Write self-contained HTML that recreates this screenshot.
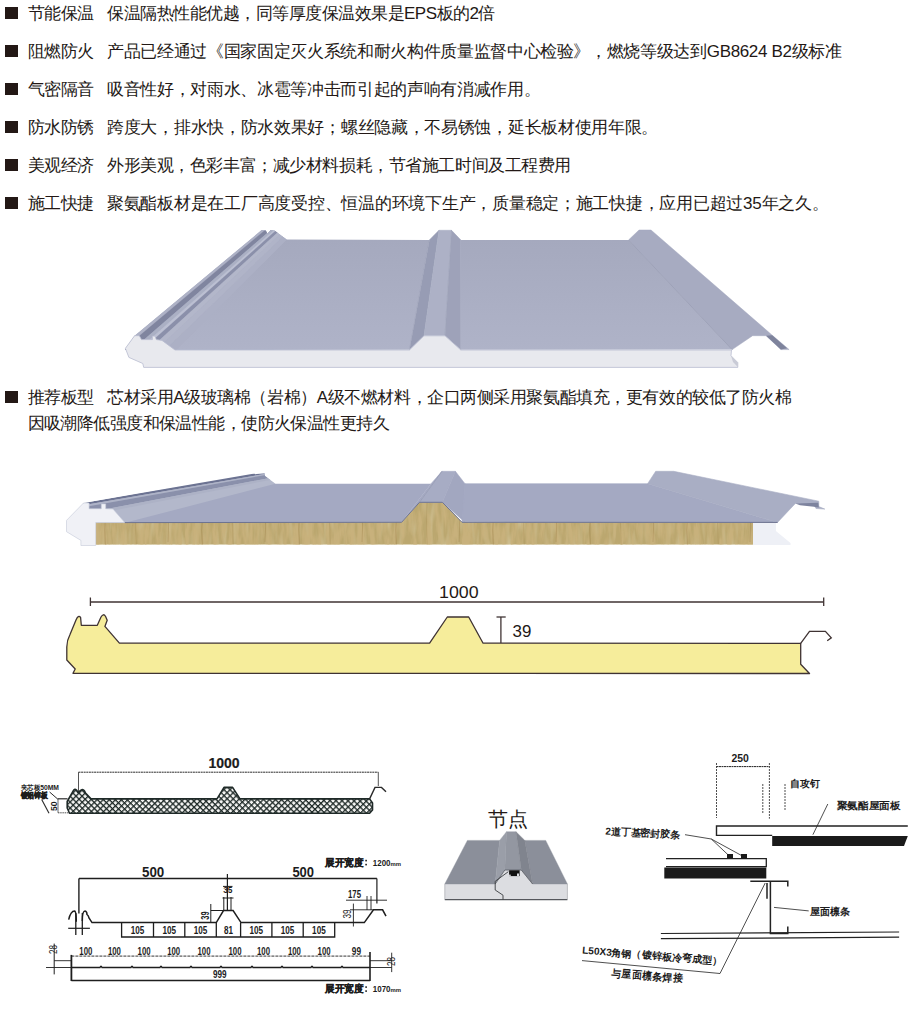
<!DOCTYPE html>
<html><head><meta charset="utf-8">
<style>
*{margin:0;padding:0;box-sizing:border-box}
html,body{width:920px;height:1017px;background:#fff;overflow:hidden}
body{position:relative;font-family:"Liberation Sans",sans-serif;color:#231815}
.ln{position:absolute;left:0;font-size:17px;line-height:20px;white-space:nowrap;letter-spacing:-0.5px}
.b{position:absolute;left:4.9px;width:12.8px;height:11.7px;background:#231815}
.h{position:absolute;left:27.5px;top:1px}
.t{position:absolute;left:107px;top:1px}
svg{position:absolute;left:0;top:0}
</style></head><body>
<div class="ln" style="top:3px"><span class="b" style="top:4.2px"></span><span class="h">节能保温</span><span class="t" style="letter-spacing:-0.5px">保温隔热性能优越，同等厚度保温效果是EPS板的2倍</span></div>
<div class="ln" style="top:41px"><span class="b" style="top:4.2px"></span><span class="h">阻燃防火</span><span class="t" style="letter-spacing:-0.34px">产品已经通过《国家固定灭火系统和耐火构件质量监督中心检验》，燃烧等级达到GB8624 B2级标准</span></div>
<div class="ln" style="top:79px"><span class="b" style="top:4.2px"></span><span class="h">气密隔音</span><span class="t" style="letter-spacing:-0.33px">吸音性好，对雨水、冰雹等冲击而引起的声响有消减作用。</span></div>
<div class="ln" style="top:117px"><span class="b" style="top:4.2px"></span><span class="h">防水防锈</span><span class="t" style="letter-spacing:-0.3px">跨度大，排水快，防水效果好；螺丝隐藏，不易锈蚀，延长板材使用年限。</span></div>
<div class="ln" style="top:155px"><span class="b" style="top:4.2px"></span><span class="h">美观经济</span><span class="t" style="letter-spacing:-0.43px">外形美观，色彩丰富；减少材料损耗，节省施工时间及工程费用</span></div>
<div class="ln" style="top:193px"><span class="b" style="top:4.2px"></span><span class="h">施工快捷</span><span class="t" style="letter-spacing:-0.26px">聚氨酯板材是在工厂高度受控、恒温的环境下生产，质量稳定；施工快捷，应用已超过35年之久。</span></div>
<div class="ln" style="top:387px"><span class="b" style="top:4.2px"></span><span class="h">推荐板型</span><span class="t" style="letter-spacing:-0.43px">芯材采用A级玻璃棉（岩棉）A级不燃材料，企口两侧采用聚氨酯填充，更有效的较低了防火棉</span></div>
<div class="ln" style="top:413px"><span class="h" style="letter-spacing:-0.57px">因吸潮降低强度和保温性能，使防火保温性更持久</span></div>

<svg width="920" height="1017" viewBox="0 0 920 1017" style="position:absolute;left:0;top:0">
<defs>
<linearGradient id="pl" x1="0" y1="0" x2="0" y2="1"><stop offset="0" stop-color="#a5a9be"/><stop offset="1" stop-color="#afb3c8"/></linearGradient>
</defs>
<!-- IMAGE 1 -->
<g>
<!-- main plane left -->
<polygon fill="url(#pl)" points="285.7,239.6 429.4,240 409.5,349.8 175,350"/>
<!-- left edge strip -->
<clipPath id="strip1"><polygon points="134.6,335.7 261.5,230.1 265.8,230.5 267.4,233.4 270.7,230.1 274.6,230.5 278.5,233.4 286.7,239.6 176,350 125,350"/></clipPath>
<g clip-path="url(#strip1)">
<rect x="120" y="225" width="170" height="130" fill="#acb0c5"/>
<polygon fill="#aeb2c6" stroke="#aeb2c6" stroke-width="0.3" points="115.0,352.0 120.3,352.0 270.0,226.0 267.0,226.0"/>
<polygon fill="#80859f" stroke="#80859f" stroke-width="0.3" points="120.3,352.0 129.8,352.0 275.4,226.0 270.0,226.0"/>
<polygon fill="#abb0c4" stroke="#abb0c4" stroke-width="0.3" points="129.8,352.0 135.6,352.0 278.6,226.0 275.4,226.0"/>
<polygon fill="#bcc0d2" stroke="#bcc0d2" stroke-width="0.3" points="135.6,352.0 140.0,352.0 281.1,226.0 278.6,226.0"/>
<polygon fill="#8b90aa" stroke="#8b90aa" stroke-width="0.3" points="140.0,352.0 146.5,352.0 284.8,226.0 281.1,226.0"/>
<polygon fill="#b3b7ca" stroke="#b3b7ca" stroke-width="0.3" points="146.5,352.0 153.9,352.0 288.9,226.0 284.8,226.0"/>
<polygon fill="#b0b4c8" stroke="#b0b4c8" stroke-width="0.3" points="153.9,352.0 163.1,352.0 294.1,226.0 288.9,226.0"/>
<polygon fill="#acb0c5" stroke="#acb0c5" stroke-width="0.3" points="163.1,352.0 176.4,352.0 301.6,226.0 294.1,226.0"/>
</g>
<!-- middle ridge -->
<polygon fill="#979cb4" stroke="#979cb4" stroke-width="0.6" points="429.4,240 439,230.3 424,335.8 409.5,349.8"/>
<polygon fill="#adb1c6" stroke="#adb1c6" stroke-width="0.6" points="439,230.3 451.5,230.3 445,335.8 424,335.8"/>
<polygon fill="#9ea2b9" stroke="#9ea2b9" stroke-width="0.6" points="451.5,230.3 460.8,240 460.8,349.8 445,335.8"/>
<!-- plane right -->
<polygon fill="url(#pl)" points="460.8,240 628.5,240 732.2,349.6 460.8,349.8"/>
<!-- right fold face -->
<polygon fill="#a7abc1" stroke="#a7abc1" stroke-width="0.5" points="628.5,240 639,230 651,230 772.2,335.2 789.1,349.6 780.9,349.6 766.1,335.7 752.6,335.7 732.2,349.6"/>
<polygon fill="#7e839c" points="766.1,335.7 772.2,335.2 787,348.2 780.9,349.6"/>
<line x1="628.5" y1="240" x2="732.2" y2="349.6" stroke="#9599b0" stroke-width="0.7"/>
<!-- foam front -->
<polygon fill="#e8e9ee" stroke="#b9bdd0" stroke-width="0.8" points="134.6,335.7 139.3,335.7 141.5,339.6 152.4,339.6 152.4,336.1 155,336.1 156.3,339.6 162,340.4 175,350 409.5,350 424,335.8 445,335.8 460.8,350 731.5,350 731,355.7 737.8,362.6 737.8,367.4 143.7,367.4 142.8,363.5 128.9,357.4 125.4,348.3"/>
<polygon fill="#c9cbd6" points="731,355.7 737.8,362.6 737.8,367 733,362"/>
</g>
<!-- IMAGE 2 -->
<g>
<!-- rockwool -->
<filter id="rwf" x="0" y="0" width="1" height="1"><feTurbulence type="fractalNoise" baseFrequency="0.22 0.04" numOctaves="3" seed="7"/><feColorMatrix type="matrix" values="0 0 0 0 0.58  0 0 0 0 0.44  0 0 0 0 0.2  3.0 0 0 0 -1.1"/><feComposite in2="SourceGraphic" operator="in"/></filter>
<filter id="rwl" x="0" y="0" width="1" height="1"><feTurbulence type="fractalNoise" baseFrequency="0.18 0.03" numOctaves="2" seed="21"/><feColorMatrix type="matrix" values="0 0 0 0 0.84  0 0 0 0 0.77  0 0 0 0 0.56  1.0 0 0 0 -0.45"/><feComposite in2="SourceGraphic" operator="in"/></filter>
<pattern id="rwp" width="97" height="46" patternUnits="userSpaceOnUse" x="100" y="500"><path d="M5,0 L5.5,14 L4.8,30 L5.4,46" stroke="#8a6a30" stroke-width="0.9" fill="none"/><path d="M36,0 L35.5,22 L36.3,46" stroke="#9c7f45" stroke-width="0.7" fill="none"/><path d="M68,4 L68.6,26 L68,42" stroke="#8f7038" stroke-width="0.8" fill="none"/></pattern>
<clipPath id="rwc"><polygon points="95.7,522.3 401.6,522.3 419.5,502.3 442.4,502.3 462,522.3 753.2,522.3 753.2,544.6 95.7,544.6"/></clipPath>
<g clip-path="url(#rwc)"><rect x="95" y="500" width="660" height="46" fill="#bba76f"/><rect x="95" y="500" width="660" height="46" fill="#fff" filter="url(#rwl)"/><rect x="95" y="500" width="660" height="46" fill="#fff" filter="url(#rwf)"/><rect x="95" y="500" width="660" height="46" fill="url(#rwp)" opacity="0.35"/></g>
<!-- main plane left -->
<polygon fill="#a4a9c2" points="266,483.7 431,483.7 401.6,522 110,522.6"/>
<!-- left strip -->
<clipPath id="strip2"><polygon points="83.5,503 249.6,473.1 254.5,473.5 255.5,474.6 256.5,474 264.6,473.4 265,476 275.5,483.7 126,522.6 83.5,522.6"/></clipPath>
<g clip-path="url(#strip2)">
<polygon fill="#b3b8cb" points="70,506 280,470 280,540 70,540"/>
<polygon fill="#6c7392" points="70,505.2 280,469 280,471.3 70,507.5"/>
<polygon fill="#aeb3c7" points="70,507.5 280,471.3 280,472.5 70,509.5"/>
<polygon fill="#8a90ab" points="70,509.5 280,472.5 280,476 70,516"/>
<polygon fill="#adb2c6" points="70,516 280,476 280,478 70,519"/>
</g>
<!-- end caps -->
<polygon fill="#f0f1f6" stroke="#c5c9d8" stroke-width="0.6" points="66.5,520.4 83.5,503 89.1,503 89.1,508.7 101.3,508.7 101.3,503.9 105.7,503.9 105.7,508.7 113,509.1 124.8,522.6 95.7,522.6 95.7,545.5 80.9,545.5 80.9,540.4 66.5,531.7"/>
<polygon fill="#eef0f6" points="753,522.5 775.9,522.5 775.9,531 790.5,543 790.5,545 753,545"/>
<!-- mid ridge -->
<polygon fill="#a4a9c2" stroke="#a4a9c2" stroke-width="0.5" points="431,483.7 442,471.3 419.5,502.3 401.6,521.8"/>
<polygon fill="#a7acc4" stroke="#a7acc4" stroke-width="0.5" points="442,471.3 455.4,471.3 442.4,502.3 419.5,502.3"/>
<polygon fill="#a2a7c0" stroke="#a2a7c0" stroke-width="0.5" points="455.4,471.3 465,483.7 464.4,521.8 442.4,502.3"/>
<line x1="419.5" y1="502.3" x2="442" y2="471.3" stroke="#959ab3" stroke-width="0.8"/>
<!-- plane right -->
<polygon fill="#a4a9c2" stroke="#a4a9c2" stroke-width="0.6" points="465,483.7 647.6,483.7 777.5,522.4 462,521.8"/>
<!-- right face -->
<polygon fill="#a9aec4" stroke="#a9aec4" stroke-width="0.6" points="647.6,483.7 655.7,471.3 673.7,471.3 818.8,501.2 818.8,506.6 824.8,509.1 816,508.5 814,505 795.4,503.4 777.5,522.4"/>
<polygon fill="#7d839e" points="795.4,503.4 818.3,502.8 818.8,507.5 814,506.8 800,505.2"/>
<polyline fill="none" stroke="#6d7390" stroke-width="1" points="124.8,522.6 401.6,522.3 419.5,502.3 442.4,502.3 462,522.3 777.5,522.4"/>
</g>

<!-- IMAGE 3 yellow profile -->
<g stroke="#3f3333" stroke-width="1.3" fill="none">
<path fill="#f6ed9b" stroke-linejoin="round" d="M73,673.3 L75.2,669 L66.8,660 L66.8,647 Q67,640 69.9,634.8 L76,620 Q78.3,614.5 80.6,617.5 L81.3,625.3 L97.3,625.3 L101,617 Q103.4,612.8 105.6,616.5 L107.2,620.3 L104.9,626.4 L119.4,643.2 L429.6,643.2 L447.3,617 L468.7,617 L483.1,643.2 L800.7,643.4 L800.7,664.3 L809.5,673.5 Z"/>
<polyline points="800.7,643.4 809.5,631.3 825.4,631.3 831.3,637.8 827.2,640.7"/>
<line x1="90.4" y1="602" x2="823.7" y2="602"/>
<line x1="90.4" y1="597.5" x2="90.4" y2="606"/>
<line x1="823.7" y1="597.5" x2="823.7" y2="606"/>
<line x1="500.9" y1="617" x2="500.9" y2="643"/>
<line x1="496.5" y1="617" x2="505.7" y2="617"/>
</g>
<text x="439" y="597.5" font-family="Liberation Sans" font-size="16.8" fill="#231815" textLength="39.6" lengthAdjust="spacingAndGlyphs">1000</text>
<text x="512.5" y="637" font-family="Liberation Sans" font-size="16.8" fill="#231815" textLength="18.8" lengthAdjust="spacingAndGlyphs">39</text>

<!-- IMAGE 4 technical drawings -->
<defs>
<pattern id="hatch" width="4.35" height="4.2" patternUnits="userSpaceOnUse" patternTransform="translate(67,798) rotate(45)">
<rect width="4.35" height="4.2" fill="#f4f4f2"/>
<rect x="0" y="0" width="4.35" height="1.3" fill="#1f2a28"/>
<rect x="0" y="0" width="1.3" height="4.2" fill="#1f2a28"/>
</pattern>
</defs>
<g font-family="Liberation Sans" fill="#1c1c1c">
<text x="208.5" y="767.5" font-size="14" font-weight="bold" stroke="#1c1c1c" stroke-width="0.2">1000</text>
</g>
<g stroke="#2a2a2a" fill="none">
<line x1="78.5" y1="772.2" x2="378.3" y2="772.2" stroke-width="1" stroke-dasharray="2,0.6"/>
<line x1="78.5" y1="772.2" x2="78.5" y2="791.5" stroke-width="0.8"/>
<line x1="378.3" y1="772.2" x2="378.3" y2="786" stroke-width="0.8"/>
<path fill="url(#hatch)" stroke="#1f2a28" stroke-width="1.6" stroke-linejoin="round" d="M69.5,813.2 L67.2,808 L67.2,801.5 L73.5,790.5 Q74.7,788.5 76.5,790 L78,792.5 L81,790.2 Q83.2,788.7 84.8,791.5 L85.5,793 L91,798.9 L217,798.9 L224,787.4 L232.6,787.4 L240,798.9 L369.6,798.9 L372.5,803 L372.5,810 L369.6,813.2 Z"/>
<polyline points="369.6,798.9 375,787.4 381.5,787.4 386,791.7" stroke-width="1.4"/>
<line x1="58" y1="798.8" x2="58" y2="812.8" stroke-width="0.7"/>
<line x1="57.4" y1="798.8" x2="67.5" y2="798.8" stroke-width="1.2"/>
<line x1="58" y1="812.8" x2="70" y2="812.8" stroke-width="0.8" stroke-dasharray="1.5,0.7"/>
<line x1="49.6" y1="792" x2="57.4" y2="798.8" stroke-width="1"/>
<line x1="41.7" y1="799.5" x2="49" y2="813.2" stroke-width="1.1"/>
</g>
<g font-family="Liberation Sans" fill="#1c1c1c">
<text x="20.5" y="789.8" font-size="7.2" font-weight="bold" textLength="38.5" lengthAdjust="spacingAndGlyphs">夹芯板50MM</text>
<text x="20.5" y="797.8" font-size="8" font-weight="bold" stroke="#1c1c1c" stroke-width="0.6" textLength="27" lengthAdjust="spacingAndGlyphs">镀铝锌板</text>
<text transform="translate(56.5,811) rotate(-90)" font-size="9.5" font-weight="bold" textLength="9.5" lengthAdjust="spacingAndGlyphs">50</text>
</g>
<!-- drawing 2 -->
<g font-family="Liberation Sans" fill="#1c1c1c">
<text x="325" y="865.8" font-size="9.5" font-weight="bold" stroke="#1c1c1c" stroke-width="0.35" textLength="38.5" lengthAdjust="spacingAndGlyphs">展开宽度</text>
<rect x="365.3" y="859.8" width="1.6" height="1.6" fill="#1c1c1c"/><rect x="365.3" y="863.8" width="1.6" height="1.6" fill="#1c1c1c"/>
<text x="372.8" y="865.8" font-size="9" font-weight="bold" textLength="17.7" lengthAdjust="spacingAndGlyphs">1200</text>
<text x="390.5" y="865.8" font-size="6" font-weight="bold" textLength="10.5" lengthAdjust="spacingAndGlyphs">mm</text>
<text x="325" y="992.3" font-size="9.5" font-weight="bold" stroke="#1c1c1c" stroke-width="0.35" textLength="38.5" lengthAdjust="spacingAndGlyphs">展开宽度</text>
<rect x="365.3" y="986.3" width="1.6" height="1.6" fill="#1c1c1c"/><rect x="365.3" y="990.3" width="1.6" height="1.6" fill="#1c1c1c"/>
<text x="372.8" y="992.3" font-size="9" font-weight="bold" textLength="17.7" lengthAdjust="spacingAndGlyphs">1070</text>
<text x="390.5" y="992.3" font-size="6" font-weight="bold" textLength="10.5" lengthAdjust="spacingAndGlyphs">mm</text>
<text x="142" y="877.2" font-size="15" font-weight="bold" textLength="22.3" lengthAdjust="spacingAndGlyphs">500</text>
<text x="292.4" y="877.2" font-size="15" font-weight="bold" textLength="21.7" lengthAdjust="spacingAndGlyphs">500</text>
</g>
<g stroke="#1e1e1e" fill="none" stroke-width="1.2">
<line x1="78.9" y1="878.5" x2="376.9" y2="878.5" stroke-width="1.4"/>
<line x1="78.9" y1="878.5" x2="78.9" y2="913.6" stroke-width="1.4"/>
<line x1="376.9" y1="878.5" x2="376.9" y2="903.6"/>
<line x1="227.4" y1="874" x2="227.4" y2="910.5"/>
<line x1="223.8" y1="897" x2="223.8" y2="910.5" stroke-width="1"/>
<line x1="231" y1="897" x2="231" y2="910.5" stroke-width="1"/>
<line x1="222.5" y1="898" x2="233.5" y2="898" stroke-width="1"/>
<line x1="223" y1="886.4" x2="232.5" y2="886.4" stroke-width="1"/>
<path stroke-width="1.5" d="M68.7,919.6 Q70.5,911 74.7,910.9 Q76.3,912 76.3,921.7 M82.3,921 Q82.3,911 85,911 Q87,911.5 87,914.5 Q88.5,915.5 89,918 L92,922.6 L216.3,922.6 L223.5,910.5 L233.1,910.5 L241,922.6 L364.3,922.6 L373.5,909.8 L382.6,909.8 L386,916.2"/>
<line x1="75.8" y1="913" x2="75.8" y2="935" stroke-width="1.3"/>
<line x1="82.3" y1="913" x2="82.3" y2="935" stroke-width="1.3"/>
<line x1="68.2" y1="928.3" x2="89.9" y2="928.3" stroke-width="1.2"/>
<path stroke-width="1.3" d="M121.6,922.6 L121.6,937 L334.7,937 L334.7,922.6 M153.5,922.6 L153.5,937 M184.8,922.6 L184.8,937 M216.3,922.6 L216.3,937 M240.6,922.6 L240.6,937 M271.9,922.6 L271.9,937 M303.2,922.6 L303.2,937"/>
<line x1="210.8" y1="904" x2="210.8" y2="922.6" stroke-width="1"/>
<line x1="210.8" y1="910.5" x2="223" y2="910.5" stroke-width="1"/>
<line x1="346" y1="900.2" x2="387" y2="900.2" stroke-width="0.9"/>
<line x1="367" y1="896" x2="367" y2="910" stroke-width="0.9"/>
<line x1="371" y1="896" x2="371" y2="910" stroke-width="0.9"/>
<line x1="353.4" y1="903.6" x2="353.4" y2="926.5" stroke-width="0.9"/>
<line x1="350" y1="909.8" x2="373" y2="909.8" stroke-width="0.9"/>
<!-- lower -->
<line x1="54.2" y1="943.6" x2="54.2" y2="974.4" stroke-width="1"/>
<line x1="54.2" y1="960.7" x2="71.4" y2="960.7" stroke-width="0.9"/>
<line x1="46" y1="967.5" x2="71.4" y2="967.5" stroke-width="0.9"/>
<line x1="71.4" y1="954.9" x2="71.4" y2="981" stroke-width="1.8"/>
<line x1="71.4" y1="956.1" x2="370" y2="956.1" stroke-width="0.9" stroke-dasharray="3,1"/>
<path stroke-width="1.4" d="M71.4,967.5 L100,967.5 Q101,965 102,967.5 L131,967.5 Q132,965 133,967.5 L160,967.5 Q161,965 162,967.5 L190,967.5 Q191,965 192,967.5 L220,967.5 Q221,965 222,967.5 L251,967.5 Q252,965 253,967.5 L281,967.5 Q282,965 283,967.5 L311,967.5 Q312,965 313,967.5 L341,967.5 Q342,965 343,967.5 L370,967.5"/>
<line x1="71.4" y1="980.6" x2="370" y2="980.6" stroke-width="1.5"/>
<line x1="370" y1="952" x2="370" y2="981" stroke-width="1.6"/>
<line x1="370" y1="960.7" x2="391.7" y2="960.7" stroke-width="0.9"/>
<line x1="370" y1="967.5" x2="391.7" y2="967.5" stroke-width="0.9"/>
<line x1="391.7" y1="952.7" x2="391.7" y2="972.1" stroke-width="0.9"/>
</g>
<g font-family="Liberation Sans" fill="#1c1c1c" font-size="10">
<text x="137.6" y="934.4" text-anchor="middle" font-weight="bold" textLength="13.6" lengthAdjust="spacingAndGlyphs">105</text>
<text x="169.2" y="934.4" text-anchor="middle" font-weight="bold" textLength="13.6" lengthAdjust="spacingAndGlyphs">105</text>
<text x="200.6" y="934.4" text-anchor="middle" font-weight="bold" textLength="13.6" lengthAdjust="spacingAndGlyphs">105</text>
<text x="228.4" y="934.4" text-anchor="middle" font-weight="bold" textLength="9.0" lengthAdjust="spacingAndGlyphs">81</text>
<text x="256.2" y="934.4" text-anchor="middle" font-weight="bold" textLength="13.6" lengthAdjust="spacingAndGlyphs">105</text>
<text x="287.5" y="934.4" text-anchor="middle" font-weight="bold" textLength="13.6" lengthAdjust="spacingAndGlyphs">105</text>
<text x="318.9" y="934.4" text-anchor="middle" font-weight="bold" textLength="13.6" lengthAdjust="spacingAndGlyphs">105</text>
<text x="348" y="898" font-weight="bold" textLength="13" lengthAdjust="spacingAndGlyphs">175</text>
<text transform="translate(208.9,919.7) rotate(-90)" font-weight="bold" font-size="10.5" textLength="8.3" lengthAdjust="spacingAndGlyphs">39</text>
<text transform="translate(351,918.5) rotate(-90)" textLength="9" lengthAdjust="spacingAndGlyphs">39</text>
<text x="223.2" y="892.8" font-weight="bold" font-size="8.5" textLength="9.3" lengthAdjust="spacingAndGlyphs">35</text>
<text transform="translate(57,954) rotate(-90)" textLength="9" lengthAdjust="spacingAndGlyphs">28</text>
<text transform="translate(394.5,966) rotate(-90)" textLength="9" lengthAdjust="spacingAndGlyphs">28</text>
<text x="79.3" y="955" font-weight="bold" textLength="13" lengthAdjust="spacingAndGlyphs">100</text>
<text x="107.9" y="955" font-weight="bold" textLength="13" lengthAdjust="spacingAndGlyphs">100</text>
<text x="137.6" y="955" font-weight="bold" textLength="13" lengthAdjust="spacingAndGlyphs">100</text>
<text x="167.2" y="955" font-weight="bold" textLength="13" lengthAdjust="spacingAndGlyphs">100</text>
<text x="197.5" y="955" font-weight="bold" textLength="13" lengthAdjust="spacingAndGlyphs">100</text>
<text x="228.5" y="955" font-weight="bold" textLength="13" lengthAdjust="spacingAndGlyphs">100</text>
<text x="257" y="955" font-weight="bold" textLength="13" lengthAdjust="spacingAndGlyphs">100</text>
<text x="287.9" y="955" font-weight="bold" textLength="13" lengthAdjust="spacingAndGlyphs">100</text>
<text x="317.6" y="955" font-weight="bold" textLength="13" lengthAdjust="spacingAndGlyphs">100</text>
<text x="351.8" y="955" font-weight="bold" textLength="9.2" lengthAdjust="spacingAndGlyphs">99</text>
<text x="213" y="978.2" font-weight="bold" textLength="13.6" lengthAdjust="spacingAndGlyphs">999</text>
</g>

<!-- IMAGE 5 node -->
<text x="487.5" y="826" font-family="Liberation Sans" font-size="19.5" fill="#231815">节点</text>
<g>
<polygon fill="#dcdde1" points="444.8,884 495.2,884 504.8,870 521.3,870 532.6,884 567.4,884 567.4,899.6 444.8,899.6"/>
<polygon fill="#8b8f9a" stroke="#8b8f9a" stroke-width="0.4" points="467.4,840.4 499.6,840.4 495.2,884 444.8,884"/>
<polygon fill="#8b8f9a" stroke="#8b8f9a" stroke-width="0.4" points="524.8,840.4 545.7,840.4 567.4,884 532.6,884"/>
<polygon fill="#9a9ea8" stroke="#9a9ea8" stroke-width="0.4" points="499.6,840.4 506.5,831.7 504.8,870 495.2,884"/>
<polygon fill="#9397a1" stroke="#9397a1" stroke-width="0.4" points="506.5,831.7 516,831.7 521.3,870 504.8,870"/>
<polygon fill="#80848e" stroke="#80848e" stroke-width="0.4" points="516,831.7 524.8,840.4 532.6,884 521.3,870"/>
<polyline fill="none" stroke="#55575e" stroke-width="0.7" points="495.2,884 504.8,870 521.3,870 532.6,884"/>
<line x1="444.8" y1="899.6" x2="567.4" y2="899.6" stroke="#55575c" stroke-width="1.1"/>
<line x1="444.8" y1="884" x2="444.8" y2="899.6" stroke="#9a9ca2" stroke-width="0.6"/>
<line x1="567.4" y1="884" x2="567.4" y2="899.6" stroke="#9a9ca2" stroke-width="0.6"/>
<polyline fill="none" stroke="#3a3c40" stroke-width="0.9" points="508.3,871.7 495.2,881.3 495.2,890 503,895.2 503,899.6"/>
<rect x="509.1" y="870.3" width="10.5" height="5.8" fill="#111"/>
<rect x="517" y="873.5" width="2" height="2.6" fill="#dcdde1"/>
<rect x="509.1" y="874.6" width="1.6" height="1.5" fill="#dcdde1"/>
</g>
<!-- IMAGE 6 right drawing -->
<g font-family="Liberation Sans" fill="#1c1c1c">
<text x="731.5" y="761.7" font-size="11" font-weight="bold" textLength="17.4" lengthAdjust="spacingAndGlyphs">250</text>
<text x="789.6" y="787.4" font-size="10" font-weight="bold" textLength="30" lengthAdjust="spacingAndGlyphs">自攻钉</text>
<text x="836.5" y="809.3" font-size="10" font-weight="bold" textLength="64" lengthAdjust="spacingAndGlyphs">聚氨酯屋面板</text>
<text transform="translate(605.2,834.5) rotate(3)" font-size="10" font-weight="bold" textLength="75" lengthAdjust="spacingAndGlyphs">2道丁基密封胶条</text>
<text x="810.4" y="915.4" font-size="10" font-weight="bold" textLength="40" lengthAdjust="spacingAndGlyphs">屋面檩条</text>
<text transform="translate(582,953.5) rotate(4.5)" font-size="10" font-weight="bold" textLength="140" lengthAdjust="spacingAndGlyphs">L50X3角钢（镀锌板冷弯成型）</text>
<text transform="translate(611,976.5) rotate(4.5)" font-size="10.5" font-weight="bold" textLength="72" lengthAdjust="spacingAndGlyphs">与屋面檩条焊接</text>
</g>
<g stroke="#222" fill="none" stroke-width="0.8">
<line x1="716.5" y1="766.6" x2="769.4" y2="766.6" stroke-width="1" stroke-dasharray="2,0.5"/>
<line x1="716.5" y1="763" x2="716.5" y2="818" stroke-dasharray="2,1"/>
<line x1="769.4" y1="763" x2="769.4" y2="818.7" stroke-dasharray="2,1"/>
<line x1="762.8" y1="784" x2="762.8" y2="813" stroke-dasharray="2,1"/>
<line x1="785" y1="784" x2="785" y2="810" stroke-dasharray="2,1"/>
<path stroke-width="1.4" d="M907.8,826 L716.5,826 L716.5,835.4 L772.2,835.4"/>
<line x1="827.8" y1="804" x2="812.9" y2="834.7"/>
<line x1="685" y1="834.7" x2="711.3" y2="839"/>
<line x1="711.3" y1="839" x2="730.4" y2="857"/>
<line x1="711.3" y1="839" x2="744.3" y2="857"/>
<path stroke-width="1.3" d="M666,858.7 L766.3,858.7 L766.3,866.7 L666,866.7"/>
<line x1="660.9" y1="933.5" x2="899.1" y2="932" stroke-width="1.2"/>
<line x1="660.9" y1="938.7" x2="899.1" y2="937.2" stroke-width="1.2"/>
<path stroke-width="1.5" d="M750.3,881.3 L787.8,881.3 L787.8,886.5 M770.4,881.3 L770.4,933.5 L787.8,933.5 L787.8,926.5 M767,883 L767,898.7"/>
<line x1="774" y1="907.4" x2="808.7" y2="910.9"/>
<polyline points="582,960.6 720,973.5 765.2,883"/>
</g>
<polygon fill="#1a1a1a" points="772.2,836 907.8,836 904,846 772.2,846"/>
<polygon fill="#1a1a1a" points="664.3,867.4 766.3,867.4 766.3,878.5 664.3,878.5"/>
<rect x="727" y="854" width="6" height="5" fill="#1a1a1a"/>
<rect x="741" y="854" width="6" height="5" fill="#1a1a1a"/>
</svg>
</body></html>
